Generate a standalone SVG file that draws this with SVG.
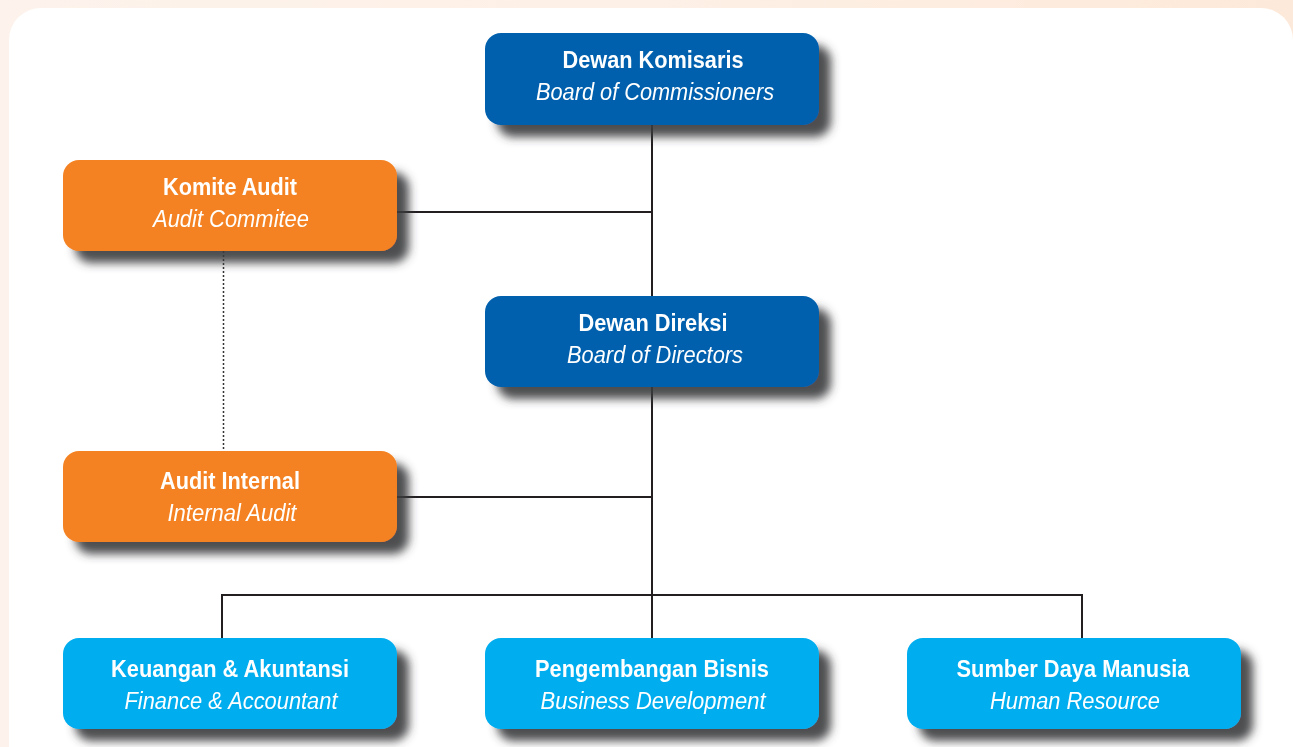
<svg xmlns="http://www.w3.org/2000/svg" width="1293" height="747" viewBox="0 0 1293 747">
<defs>
<linearGradient id="bg" x1="0" y1="0" x2="1" y2="0">
<stop offset="0" stop-color="#fdf3ec"/>
<stop offset="0.5" stop-color="#fdf0e6"/>
<stop offset="1" stop-color="#fde9d9"/>
</linearGradient>
<filter id="sh" x="-10%" y="-20%" width="130%" height="170%">
<feGaussianBlur in="SourceAlpha" stdDeviation="5"/>
<feOffset dx="12" dy="12" result="b"/>
<feFlood flood-color="#3a3b3d" flood-opacity="0.9"/>
<feComposite in2="b" operator="in"/>
<feMerge><feMergeNode/><feMergeNode in="SourceGraphic"/></feMerge>
</filter>
<style>
.t{font-family:"Liberation Sans",Arial,sans-serif;font-size:23px;fill:#fff;text-anchor:middle}
.b{font-weight:bold}
.i{font-style:italic}
.dk{fill:#0061ad}
.or{fill:#f48221}
.lt{fill:#00aeef}
.ln{stroke:#231f20;stroke-width:2;fill:none}
.dt{stroke:#333;stroke-width:1.5;stroke-dasharray:2 2;fill:none}
</style>
</defs>
<rect width="1293" height="747" fill="url(#bg)"/>
<rect x="9" y="8" width="1284" height="800" rx="32" fill="#fff"/>
<g id="connectors">
<path class="ln" d="M652 125V296M397 212H652M652 387V638M397 497H652M222 638V595H1082V638"/>
<path class="dt" d="M223.5 251V451"/>
</g>
<g id="dewan-komisaris" filter="url(#sh)">
<rect class="dk" x="485" y="33" width="334" height="92" rx="16"/>
<text class="t b" x="653" y="68" textLength="181" lengthAdjust="spacingAndGlyphs">Dewan Komisaris</text>
<text class="t i" x="655" y="100" textLength="238" lengthAdjust="spacingAndGlyphs">Board of Commissioners</text>
</g>
<g id="komite-audit" filter="url(#sh)">
<rect class="or" x="63" y="160" width="334" height="91" rx="16"/>
<text class="t b" x="230" y="195" textLength="134" lengthAdjust="spacingAndGlyphs">Komite Audit</text>
<text class="t i" x="231" y="227" textLength="156" lengthAdjust="spacingAndGlyphs">Audit Commitee</text>
</g>
<g id="dewan-direksi" filter="url(#sh)">
<rect class="dk" x="485" y="296" width="334" height="91" rx="16"/>
<text class="t b" x="653" y="331" textLength="149" lengthAdjust="spacingAndGlyphs">Dewan Direksi</text>
<text class="t i" x="655" y="363" textLength="176" lengthAdjust="spacingAndGlyphs">Board of Directors</text>
</g>
<g id="audit-internal" filter="url(#sh)">
<rect class="or" x="63" y="451" width="334" height="91" rx="16"/>
<text class="t b" x="230" y="489" textLength="140" lengthAdjust="spacingAndGlyphs">Audit Internal</text>
<text class="t i" x="232" y="521" textLength="129" lengthAdjust="spacingAndGlyphs">Internal Audit</text>
</g>
<g id="keuangan" filter="url(#sh)">
<rect class="lt" x="63" y="638" width="334" height="91" rx="16"/>
<text class="t b" x="230" y="677" textLength="238" lengthAdjust="spacingAndGlyphs">Keuangan &amp; Akuntansi</text>
<text class="t i" x="231" y="709" textLength="213" lengthAdjust="spacingAndGlyphs">Finance &amp; Accountant</text>
</g>
<g id="pengembangan" filter="url(#sh)">
<rect class="lt" x="485" y="638" width="334" height="91" rx="16"/>
<text class="t b" x="652" y="677" textLength="234" lengthAdjust="spacingAndGlyphs">Pengembangan Bisnis</text>
<text class="t i" x="653" y="709" textLength="225" lengthAdjust="spacingAndGlyphs">Business Development</text>
</g>
<g id="sdm" filter="url(#sh)">
<rect class="lt" x="907" y="638" width="334" height="91" rx="16"/>
<text class="t b" x="1073" y="677" textLength="233" lengthAdjust="spacingAndGlyphs">Sumber Daya Manusia</text>
<text class="t i" x="1075" y="709" textLength="170" lengthAdjust="spacingAndGlyphs">Human Resource</text>
</g>
</svg>
